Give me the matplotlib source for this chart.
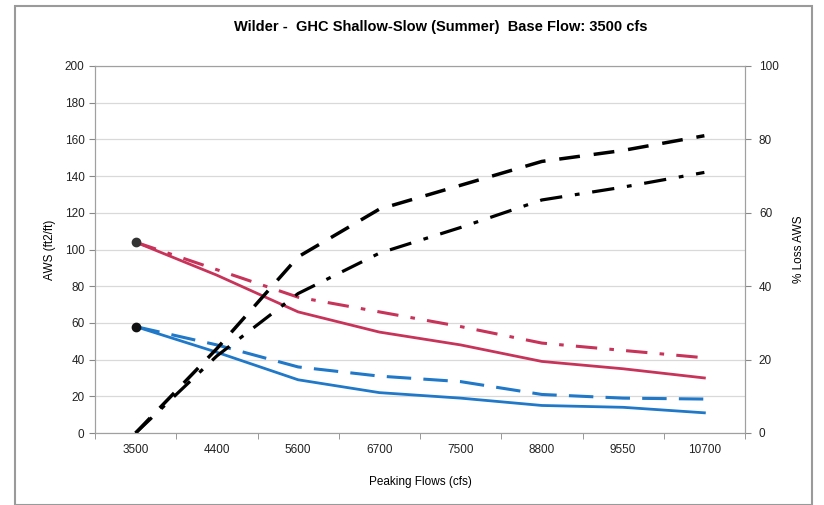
import numpy as np
import matplotlib.pyplot as plt
from matplotlib.patches import Rectangle

# categories on x axis
flows = ['3500', '4400', '5600', '6700', '7500', '8800', '9550', '10700']

# AWS (left axis)
aws_red_solid = [104, 86, 66, 55, 48, 39, 35, 30]
aws_red_dashdot = [104, 89, 74, 66, 58, 49, 45, 41]
aws_blue_solid = [58, 44, 29, 22, 19, 15, 14, 11]
aws_blue_dashed = [58, 48, 36, 31, 28, 21, 19, 18.5]

# % loss AWS (right axis)
loss_dashed = [0, 23, 48, 61, 67.5, 74, 77, 81]
loss_dashdot = [0, 21, 38, 49, 56, 63.5, 67, 71]

RED = '#c8335a'
BLUE = '#1f78c8'


def main():
    plt.rcParams['font.family'] = ['Liberation Sans', 'DejaVu Sans']
    fig = plt.figure(figsize=(8.24, 5.05), dpi=100)

    # outer chart frame
    fig.patches.append(Rectangle((15 / 824, 0.0), 797 / 824, 1 - 6 / 505,
                                 transform=fig.transFigure, fill=False,
                                 edgecolor='#9a9a9a', linewidth=1.5))

    ax = fig.add_axes([95 / 824, 1 - 433 / 505, 650 / 824, 367 / 505])
    x = np.arange(len(flows))

    ax.plot(x, aws_red_dashdot, color=RED, lw=2.2, linestyle=(0, (7, 4, 1.5, 4)))
    ax.plot(x, aws_red_solid, color=RED, lw=2)
    ax.plot(x, aws_blue_dashed, color=BLUE, lw=2.2, linestyle=(0, (8, 4)))
    ax.plot(x, aws_blue_solid, color=BLUE, lw=2)
    ax.plot([x[0]], [aws_red_solid[0]], 'o', color='#333333', ms=6)
    ax.plot([x[0]], [aws_blue_solid[0]], 'o', color='#111111', ms=6)

    ax.set_xlim(-0.5, len(flows) - 0.5)
    ax.set_ylim(0, 200)
    ax.set_yticks(range(0, 201, 20))
    ax.set_xticks(x)
    ax.set_xticklabels(flows)
    ax.set_xticks(np.arange(-0.5, len(flows), 1), minor=True)
    ax.tick_params(axis='x', which='major', length=0, pad=8)
    ax.tick_params(axis='x', which='minor', length=4, color='#888888')
    ax.tick_params(axis='y', length=4, color='#888888')
    ax.tick_params(labelsize=8.5, labelcolor='#222222')
    ax.grid(axis='y', color='#d9d9d9', lw=0.9)
    ax.set_axisbelow(True)
    for s in ax.spines.values():
        s.set_color('#a0a0a0')
    ax.set_ylabel('AWS (ft2/ft)', fontsize=8.5, labelpad=6)
    ax.set_xlabel('Peaking Flows (cfs)', fontsize=8.5, labelpad=14)

    ax2 = ax.twinx()
    ax2.plot(x, loss_dashed, color='black', lw=2.5, linestyle=(0, (6, 4)))
    ax2.plot(x, loss_dashdot, color='black', lw=2.3, linestyle=(0, (7, 4, 1.5, 4)))
    ax2.set_ylim(0, 100)
    ax2.set_yticks(range(0, 101, 20))
    ax2.tick_params(axis='y', length=4, color='#888888', labelsize=8.5,
                    labelcolor='#222222', pad=6)
    for s in ax2.spines.values():
        s.set_color('#a0a0a0')
    ax2.set_ylabel('% Loss AWS', fontsize=8.5, labelpad=10)

    fig.text(441 / 824, 1 - 27 / 505,
             'Wilder -  GHC Shallow-Slow (Summer)  Base Flow: 3500 cfs',
             ha='center', va='center', fontsize=10.5, fontweight='bold')

    fig.savefig('out.png', dpi=100)


if __name__ == '__main__':
    main()
